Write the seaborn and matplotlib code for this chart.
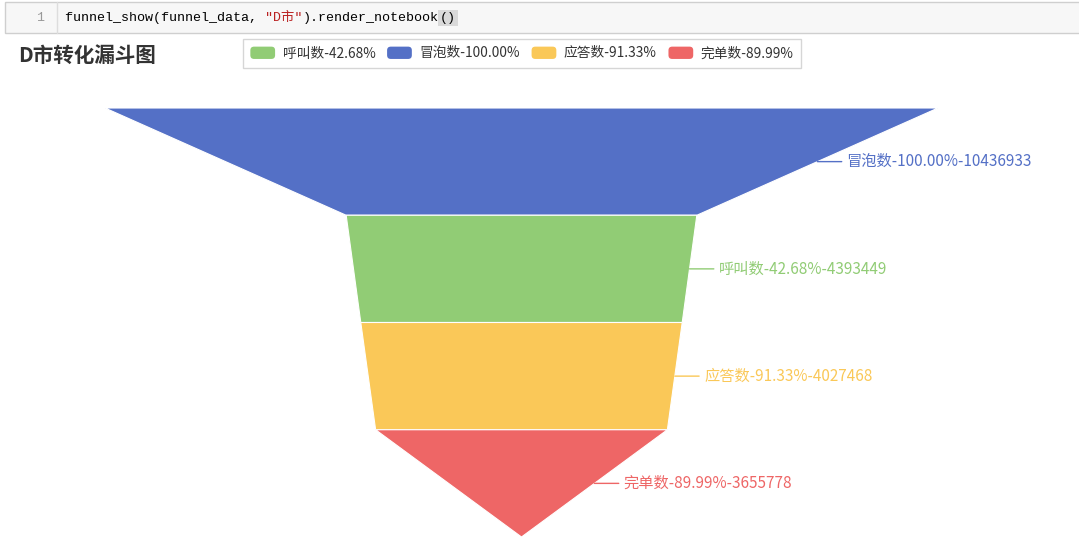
import matplotlib
matplotlib.use("Agg")
import matplotlib.pyplot as plt
import seaborn as sns
from matplotlib.patches import Rectangle, Patch, FancyBboxPatch
from matplotlib.legend_handler import HandlerPatch
from matplotlib.transforms import Bbox

# ---------------- data ----------------
stages = ["冒泡数", "呼叫数", "应答数", "完单数"]
values = [10436933, 4393449, 4027468, 3655778]
step_pct = [100.00, 42.68, 91.33, 89.99]
legend_order = ["呼叫数", "冒泡数", "应答数", "完单数"]
stage_colors = {"冒泡数": "#5470c6", "呼叫数": "#91cc75", "应答数": "#fac858", "完单数": "#ee6666"}
title = "D市转化漏斗图"
code_pieces = [("funnel_show(funnel_data, ", "#000000", False),
               ("\"D市\"", "#ba2121", False),
               (").render_notebook", "#000000", False),
               ("()", "#000000", True)]

sns.set_theme(style="white")
plt.rcParams["font.family"] = ["Noto Sans CJK SC", "DejaVu Sans"]


class RoundHandler(HandlerPatch):
    def create_artists(self, legend, orig_handle, xdescent, ydescent, width, height, fontsize, trans):
        p = FancyBboxPatch((-xdescent, -ydescent), width, height,
                           boxstyle=f"round,pad=0,rounding_size={height * 0.3}",
                           facecolor=orig_handle.get_facecolor(), edgecolor="none", transform=trans)
        return [p]


W, H = 1079, 555
fig = plt.figure(figsize=(W / 100, H / 100), dpi=100)
fig.patch.set_facecolor("white")

# background / annotation layer in pixel coordinates
bg = fig.add_axes([0, 0, 1, 1], zorder=0)
bg.set_xlim(0, W)
bg.set_ylim(H, 0)
bg.axis("off")

# Jupyter code cell
bg.add_patch(Rectangle((5, 2), W, 31, facecolor="#f7f7f7", edgecolor="#cfcfcf", lw=1))
bg.plot([57, 57], [2, 33], color="#dddddd", lw=1)
mono = ["Liberation Mono", "Noto Sans CJK SC"]
bg.text(36, 18, "1", family=mono, fontsize=9.5, color="#999999", va="center", ha="left")
renderer = fig.canvas.get_renderer()
x = 65
for txt, col, hl in code_pieces:
    kw = {}
    if hl:
        x += 1.5
        kw["bbox"] = dict(facecolor="#d9d9d9", edgecolor="none", pad=1.5)
    t = bg.text(x, 18, txt, family=mono, fontsize=9.6, color=col, va="center", ha="left", **kw)
    ext = t.get_window_extent(renderer=renderer)
    x += ext.width

# title
bg.text(18, 55, title, fontsize=14.8, fontweight="bold", color="#333333", va="center", ha="left")

# legend
pct_map = dict(zip(stages, step_pct))
handles = [Patch(facecolor=stage_colors[s], edgecolor="none") for s in legend_order]
labels = [f"{s}-{pct_map[s]:.2f}%" for s in legend_order]
leg = fig.legend(handles, labels, ncol=4, loc="center",
                 bbox_to_anchor=(522 / W, 1 - 53.5 / H), frameon=True, fancybox=False,
                 edgecolor="#cccccc", fontsize=9.9, handlelength=1.8, handleheight=1.0,
                 columnspacing=0.85, handletextpad=0.55, borderpad=0.55, borderaxespad=0,
                 handler_map={Patch: RoundHandler()})
leg.get_frame().set_linewidth(1)
for t in leg.get_texts():
    t.set_color("#333333")

# funnel axes
ax = fig.add_axes([105 / W, 1 - 537 / H, 833 / W, 429 / H], zorder=1)
ax.set_xlim(-0.5, 0.5)
ax.set_ylim(len(stages), 0)
ax.axis("off")

vmax = max(values)
clip = Bbox.from_extents(0, 0, 1031, H)
for i, (s, v, p) in enumerate(zip(stages, values, step_pct)):
    top = v / vmax
    bot = values[i + 1] / vmax if i + 1 < len(values) else 0.0
    col = stage_colors[s]
    ax.fill([-top / 2, top / 2, bot / 2, -bot / 2], [i, i, i + 1, i + 1],
            facecolor=col, edgecolor="white", lw=0.8)
    xy = ((top + bot) / 4, i + 0.5)
    ax.annotate("", xy=xy, xytext=(17.5, 0), textcoords="offset points",
                arrowprops=dict(arrowstyle="-", color=col, lw=1, shrinkA=0, shrinkB=0),
                annotation_clip=False)
    lab = ax.annotate(f"{s}-{p:.2f}%-{v}", xy=xy, xytext=(21, 0), textcoords="offset points",
                      va="center", ha="left", color=col, fontsize=11, annotation_clip=False)
    lab.set_clip_box(clip)
    lab.set_clip_on(True)

fig.savefig("out.png", dpi=100, facecolor="white")
